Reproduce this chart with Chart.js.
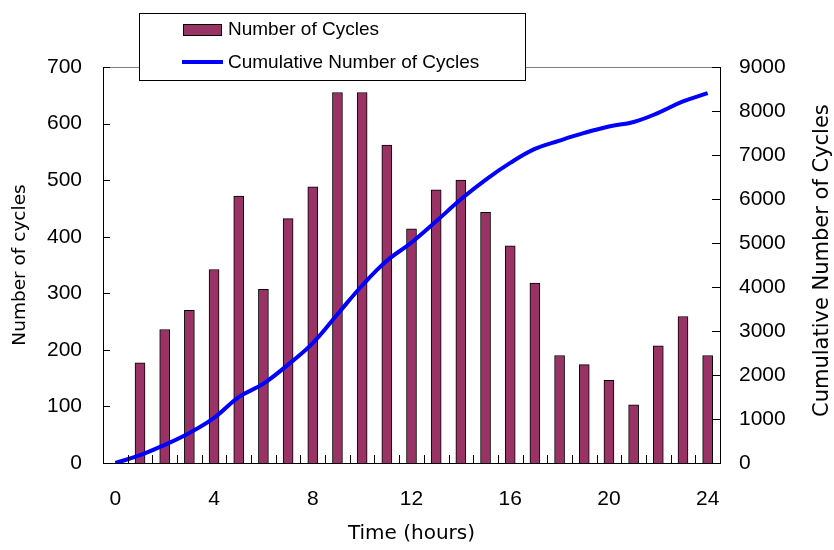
<!DOCTYPE html>
<html>
<head>
<meta charset="utf-8">
<script src="https://cdn.jsdelivr.net/npm/chart.js@4.4.1/dist/chart.umd.min.js"></script>
<style>
  html, body { margin: 0; padding: 0; background: #fff; overflow: hidden; }
  #wrap { width: 834px; height: 550px; position: relative; }
</style>
</head>
<body>
<div id="wrap"><canvas id="chart"></canvas></div>
<script>
// hours of the day (category axis), bars start at hour 1
const HOURS = ["0", "1", "2", "3", "4", "5", "6", "7", "8", "9", "10", "11", "12",
  "13", "14", "15", "16", "17", "18", "19", "20", "21", "22", "23", "24"];
const CYCLES = [null, 177, 236, 270, 342, 472, 307, 432, 488, 655, 655, 562, 414,
  483, 500, 443, 384, 318, 190, 174, 146, 103, 207, 259, 190];
const CUMULATIVE = [0, 177, 413, 683, 1025, 1497, 1804, 2236, 2724, 3379, 4034, 4596, 5010,
  5493, 5993, 6436, 6820, 7138, 7328, 7502, 7648, 7751, 7958, 8217, 8407];
const LEFT_MAX = 700, LEFT_STEP = 100;
const RIGHT_MAX = 9000, RIGHT_STEP = 1000;
const X_LABEL_EVERY = 4;

const COLORS = {
  bar: "#993366",
  line: "#0000ff",
  axis: "#000000",
  frame: "#808080",
};
const SANS = "'Liberation Sans', Arial, sans-serif";
const WIDE = "'DejaVu Sans', sans-serif";

// inward tick marks, top frame line, right title, boxed legend
const excelFrame = {
  id: "excelFrame",
  afterDraw(chart) {
    const { ctx, chartArea: a, scales } = chart;
    ctx.save();
    ctx.strokeStyle = COLORS.frame;
    ctx.lineWidth = 1;
    ctx.beginPath();
    ctx.moveTo(a.left, a.top + 0.5);
    ctx.lineTo(a.right, a.top + 0.5);
    ctx.stroke();

    ctx.strokeStyle = COLORS.axis;
    ctx.beginPath();
    for (let v = LEFT_STEP; v <= LEFT_MAX; v += LEFT_STEP) {
      const y = Math.round(scales.y.getPixelForValue(v)) + 0.5;
      ctx.moveTo(a.left, y); ctx.lineTo(a.left + 7, y);
    }
    for (let v = RIGHT_STEP; v <= RIGHT_MAX; v += RIGHT_STEP) {
      const y = Math.round(scales.y1.getPixelForValue(v)) + 0.5;
      ctx.moveTo(a.right - 8, y); ctx.lineTo(a.right, y);
    }
    for (let i = 1; i < HOURS.length; i++) {
      const x = Math.round((scales.x.getPixelForValue(i - 1) + scales.x.getPixelForValue(i)) / 2) + 0.5;
      ctx.moveTo(x, a.bottom); ctx.lineTo(x, a.bottom - 8);
    }
    ctx.stroke();

    // right axis title reads bottom-to-top
    ctx.fillStyle = "#000";
    ctx.font = "21px " + WIDE;
    ctx.translate(828, 417);
    ctx.rotate(-Math.PI / 2);
    ctx.textAlign = "left";
    ctx.textBaseline = "alphabetic";
    ctx.fillText("Cumulative Number of Cycles", 0, 0);
    ctx.restore();

    // legend box
    ctx.save();
    ctx.fillStyle = "#fff";
    ctx.fillRect(140, 13, 386, 67);
    ctx.strokeStyle = "#000";
    ctx.lineWidth = 1;
    ctx.strokeRect(139.5, 13.5, 386, 67);
    ctx.fillStyle = COLORS.bar;
    ctx.fillRect(183, 24, 39, 11);
    ctx.strokeRect(183.5, 24.5, 38, 11);
    ctx.strokeStyle = COLORS.line;
    ctx.lineWidth = 4;
    ctx.beginPath();
    ctx.moveTo(182, 62); ctx.lineTo(223, 62);
    ctx.stroke();
    ctx.fillStyle = "#000";
    ctx.font = "19px " + SANS;
    ctx.textBaseline = "alphabetic";
    ctx.fillText(chart.data.datasets[1].label, 228, 35);
    ctx.fillText(chart.data.datasets[0].label, 228, 67.5);
    ctx.restore();
  },
};

new Chart(document.getElementById("chart"), {
  data: {
    labels: HOURS,
    datasets: [
      {
        type: "line",
        label: "Cumulative Number of Cycles",
        data: CUMULATIVE,
        yAxisID: "y1",
        borderColor: COLORS.line,
        borderWidth: 4,
        pointRadius: 0,
        tension: 0.4,
        fill: false,
        order: 0,
      },
      {
        type: "bar",
        label: "Number of Cycles",
        data: CYCLES,
        yAxisID: "y",
        backgroundColor: COLORS.bar,
        borderColor: "#000",
        borderWidth: 1,
        barThickness: 10,
        order: 1,
      },
    ],
  },
  options: {
    responsive: true,
    maintainAspectRatio: false,
    animation: false,
    layout: { padding: { top: 67, left: 0, right: 0, bottom: 0 } },
    plugins: { legend: { display: false }, tooltip: { enabled: false } },
    scales: {
      x: {
        type: "category",
        offset: true,
        grid: { display: false, offset: true },
        border: { color: COLORS.axis, width: 1 },
        ticks: {
          autoSkip: false,
          maxRotation: 0,
          padding: 16,
          color: "#000",
          font: { family: SANS, size: 21 },
          callback(v, i) { return i % X_LABEL_EVERY === 0 ? this.getLabelForValue(v) : ""; },
        },
        title: {
          display: true,
          text: "Time (hours)",
          color: "#000",
          font: { family: WIDE, size: 20 },
          padding: { top: 0, bottom: 4 },
        },
        afterFit(s) { s.height = 87; },
      },
      y: {
        position: "left",
        min: 0,
        max: LEFT_MAX,
        grid: { display: false },
        border: { color: COLORS.axis, width: 1 },
        ticks: { stepSize: LEFT_STEP, padding: 13, color: "#000", font: { family: SANS, size: 21 } },
        title: {
          display: true,
          text: "Number of cycles",
          color: "#000",
          font: { family: WIDE, size: 18.5 },
          padding: { top: 9, bottom: 0 },
        },
        afterFit(s) { s.width = 103; },
      },
      y1: {
        position: "right",
        min: 0,
        max: RIGHT_MAX,
        grid: { display: false },
        border: { color: COLORS.axis, width: 1 },
        ticks: {
          stepSize: RIGHT_STEP,
          padding: 11,
          color: "#000",
          font: { family: SANS, size: 21 },
          callback: (v) => String(v),
        },
        afterFit(s) { s.width = 114; },
      },
    },
  },
  plugins: [excelFrame],
});
</script>
</body>
</html>
